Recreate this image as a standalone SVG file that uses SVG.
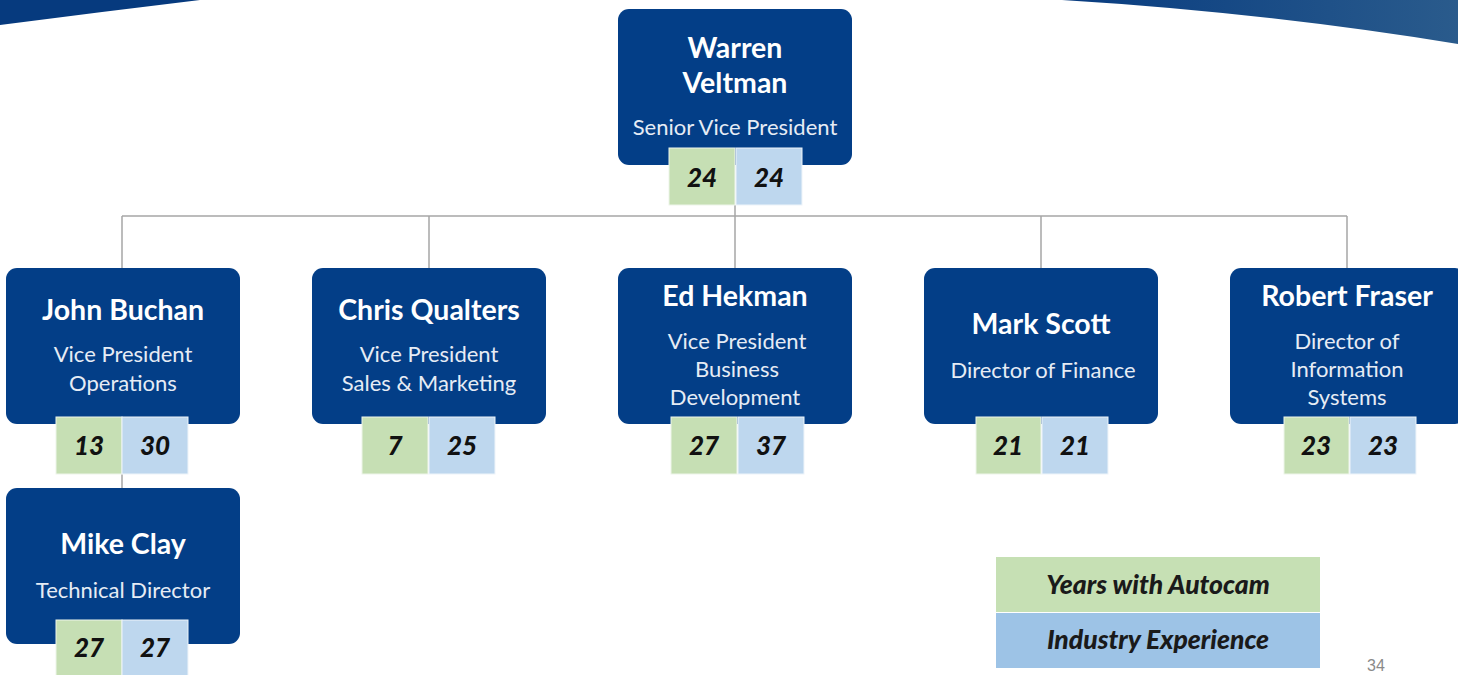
<svg xmlns="http://www.w3.org/2000/svg" width="1458" height="675" viewBox="0 0 1458 675">
<style>
.box{fill:#033e87}
.g{fill:#c6dfb4;stroke:#eef5ea;stroke-width:1}
.b{fill:#bed7ee;stroke:#eef4fa;stroke-width:1}
.nm{font-family:Lato,"Open Sans",sans-serif;font-weight:bold;font-size:28.5px;fill:#fff;text-anchor:middle}
.tt{font-family:Lato,"Open Sans",sans-serif;font-size:22px;fill:#e6ecf5;text-anchor:middle}
.num{font-family:Lato,"Open Sans",sans-serif;font-weight:900;font-style:italic;font-size:26px;fill:#111;text-anchor:middle}
.lg{font-family:Lato,"Open Sans",sans-serif;font-weight:900;font-style:italic;font-size:26.5px;fill:#1a1a1a;text-anchor:middle}
.cn{stroke:#a6a6a6;stroke-width:1.5;fill:none}
</style>
<defs>
<linearGradient id="rg" x1="0" y1="0" x2="1" y2="0">
<stop offset="0" stop-color="#083c80"/>
<stop offset="1" stop-color="#2a5b8c"/>
</linearGradient>
</defs>
<rect width="1458" height="675" fill="#fff"/>
<path d="M0,0 L200,0 Q100,12 0,25 Z" fill="#063a7e"/>
<path d="M1062,0 L1458,0 L1458,44 Q1260,12 1062,0 Z" fill="url(#rg)"/>
<g id="connectors">
<path class="cn" d="M735,205 V216 M122,216 H1347 M122,216 V268 M429,216 V268 M735,216 V268 M1041,216 V268 M1347,216 V268 M122,474 V488"/>
</g>
<g id="warren">
<rect class="box" x="618" y="9" width="234" height="156" rx="11"/>
<text class="nm" x="735" y="58">Warren</text>
<text class="nm" x="735" y="93">Veltman</text>
<text class="tt" x="735" y="135">Senior Vice President</text>
<rect class="g" x="669" y="148" width="66" height="57"/>
<rect class="b" x="736" y="148" width="66" height="57"/>
<text class="num" x="702" y="187">24</text>
<text class="num" x="769" y="187">24</text>
</g>
<g id="john">
<rect class="box" x="6" y="268" width="234" height="156" rx="11"/>
<text class="nm" x="123" y="320">John Buchan</text>
<text class="tt" x="123" y="362">Vice President</text>
<text class="tt" x="123" y="391">Operations</text>
<rect class="g" x="56" y="417" width="66" height="57"/>
<rect class="b" x="122" y="417" width="66" height="57"/>
<text class="num" x="89" y="455">13</text>
<text class="num" x="155" y="455">30</text>
</g>
<g id="chris">
<rect class="box" x="312" y="268" width="234" height="156" rx="11"/>
<text class="nm" x="429" y="320">Chris Qualters</text>
<text class="tt" x="429" y="362">Vice President</text>
<text class="tt" x="429" y="391">Sales &amp; Marketing</text>
<rect class="g" x="362" y="417" width="66" height="57"/>
<rect class="b" x="429" y="417" width="66" height="57"/>
<text class="num" x="395" y="455">7</text>
<text class="num" x="462" y="455">25</text>
</g>
<g id="ed">
<rect class="box" x="618" y="268" width="234" height="156" rx="11"/>
<text class="nm" x="735" y="306">Ed Hekman</text>
<text class="tt" x="737" y="349">Vice President</text>
<text class="tt" x="737" y="377">Business</text>
<text class="tt" x="735" y="405">Development</text>
<rect class="g" x="671" y="417" width="66" height="57"/>
<rect class="b" x="738" y="417" width="66" height="57"/>
<text class="num" x="704" y="455">27</text>
<text class="num" x="771" y="455">37</text>
</g>
<g id="mark">
<rect class="box" x="924" y="268" width="234" height="156" rx="11"/>
<text class="nm" x="1041" y="334">Mark Scott</text>
<text class="tt" x="1043" y="378">Director of Finance</text>
<rect class="g" x="976" y="417" width="65" height="57"/>
<rect class="b" x="1042" y="417" width="66" height="57"/>
<text class="num" x="1008" y="455">21</text>
<text class="num" x="1075" y="455">21</text>
</g>
<g id="robert">
<rect class="box" x="1230" y="268" width="236" height="156" rx="11"/>
<text class="nm" x="1347" y="306">Robert Fraser</text>
<text class="tt" x="1347" y="349">Director of</text>
<text class="tt" x="1347" y="377">Information</text>
<text class="tt" x="1347" y="405">Systems</text>
<rect class="g" x="1284" y="417" width="65" height="57"/>
<rect class="b" x="1350" y="417" width="66" height="57"/>
<text class="num" x="1316" y="455">23</text>
<text class="num" x="1383" y="455">23</text>
</g>
<g id="mike">
<rect class="box" x="6" y="488" width="234" height="156" rx="11"/>
<text class="nm" x="123" y="554">Mike Clay</text>
<text class="tt" x="123" y="598">Technical Director</text>
<rect class="g" x="56" y="620" width="66" height="57"/>
<rect class="b" x="122" y="620" width="66" height="57"/>
<text class="num" x="89" y="657">27</text>
<text class="num" x="155" y="657">27</text>
</g>
<g id="legend">
<rect x="996" y="557" width="324" height="55" fill="#c6e0b4"/>
<rect x="996" y="613" width="324" height="55" fill="#9dc3e6"/>
<text class="lg" x="1158" y="594">Years with Autocam</text>
<text class="lg" x="1158" y="649">Industry Experience</text>
</g>
<text x="1376" y="671" font-family="Liberation Sans,Arial,sans-serif" font-size="16" fill="#8a8a8a" text-anchor="middle">34</text>
</svg>
